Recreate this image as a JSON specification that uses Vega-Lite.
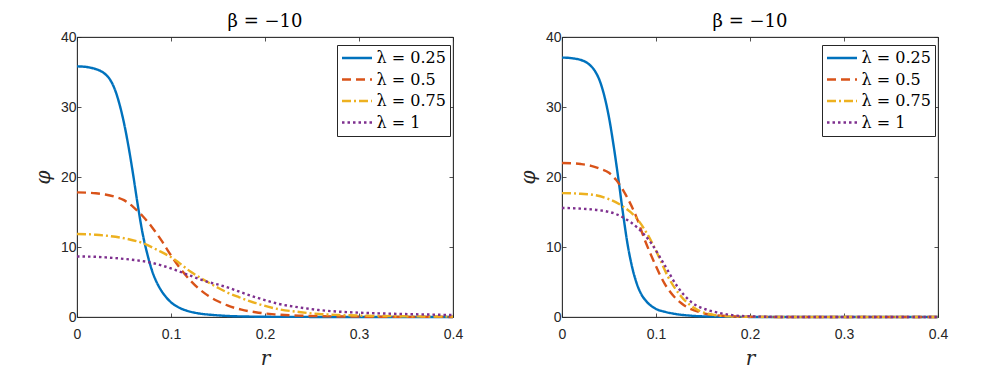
{
  "$schema": "https://vega.github.io/schema/vega-lite/v6.json",
  "padding": {"left": 33, "top": 12, "right": 5, "bottom": 5},
  "spacing": 54,
  "background": "white",
  "datasets": {
    "left": [
      {"lambda":"λ = 0.25","r":0,"phi":35.8},{"lambda":"λ = 0.25","r":0.005,"phi":35.78},{"lambda":"λ = 0.25","r":0.01,"phi":35.72},{"lambda":"λ = 0.25","r":0.015,"phi":35.6},{"lambda":"λ = 0.25","r":0.02,"phi":35.42},{"lambda":"λ = 0.25","r":0.025,"phi":35.15},{"lambda":"λ = 0.25","r":0.03,"phi":34.7},{"lambda":"λ = 0.25","r":0.035,"phi":33.95},{"lambda":"λ = 0.25","r":0.04,"phi":32.6},{"lambda":"λ = 0.25","r":0.045,"phi":30.5},{"lambda":"λ = 0.25","r":0.05,"phi":27.7},{"lambda":"λ = 0.25","r":0.055,"phi":24.2},{"lambda":"λ = 0.25","r":0.06,"phi":20.1},{"lambda":"λ = 0.25","r":0.065,"phi":15.7},{"lambda":"λ = 0.25","r":0.07,"phi":11.8},{"lambda":"λ = 0.25","r":0.075,"phi":8.9},{"lambda":"λ = 0.25","r":0.08,"phi":6.55},{"lambda":"λ = 0.25","r":0.085,"phi":4.9},{"lambda":"λ = 0.25","r":0.09,"phi":3.7},{"lambda":"λ = 0.25","r":0.095,"phi":2.8},{"lambda":"λ = 0.25","r":0.1,"phi":2.1},{"lambda":"λ = 0.25","r":0.11,"phi":1.25},{"lambda":"λ = 0.25","r":0.12,"phi":0.78},{"lambda":"λ = 0.25","r":0.13,"phi":0.5},{"lambda":"λ = 0.25","r":0.145,"phi":0.29},{"lambda":"λ = 0.25","r":0.16,"phi":0.15},{"lambda":"λ = 0.25","r":0.18,"phi":0.07},{"lambda":"λ = 0.25","r":0.2,"phi":0.03},{"lambda":"λ = 0.25","r":0.25,"phi":0.01},{"lambda":"λ = 0.25","r":0.3,"phi":0},{"lambda":"λ = 0.25","r":0.4,"phi":0},
      {"lambda":"λ = 0.5","r":0,"phi":17.8},{"lambda":"λ = 0.5","r":0.01,"phi":17.77},{"lambda":"λ = 0.5","r":0.02,"phi":17.68},{"lambda":"λ = 0.5","r":0.03,"phi":17.5},{"lambda":"λ = 0.5","r":0.04,"phi":17.2},{"lambda":"λ = 0.5","r":0.05,"phi":16.7},{"lambda":"λ = 0.5","r":0.06,"phi":15.7},{"lambda":"λ = 0.5","r":0.07,"phi":14.4},{"lambda":"λ = 0.5","r":0.08,"phi":12.8},{"lambda":"λ = 0.5","r":0.09,"phi":10.9},{"lambda":"λ = 0.5","r":0.1,"phi":8.8},{"lambda":"λ = 0.5","r":0.11,"phi":6.9},{"lambda":"λ = 0.5","r":0.12,"phi":5.3},{"lambda":"λ = 0.5","r":0.13,"phi":4.0},{"lambda":"λ = 0.5","r":0.14,"phi":3.0},{"lambda":"λ = 0.5","r":0.15,"phi":2.25},{"lambda":"λ = 0.5","r":0.16,"phi":1.65},{"lambda":"λ = 0.5","r":0.175,"phi":1.05},{"lambda":"λ = 0.5","r":0.19,"phi":0.68},{"lambda":"λ = 0.5","r":0.21,"phi":0.38},{"lambda":"λ = 0.5","r":0.24,"phi":0.18},{"lambda":"λ = 0.5","r":0.27,"phi":0.09},{"lambda":"λ = 0.5","r":0.3,"phi":0.05},{"lambda":"λ = 0.5","r":0.35,"phi":0.02},{"lambda":"λ = 0.5","r":0.4,"phi":0.01},
      {"lambda":"λ = 0.75","r":0,"phi":11.85},{"lambda":"λ = 0.75","r":0.01,"phi":11.83},{"lambda":"λ = 0.75","r":0.02,"phi":11.75},{"lambda":"λ = 0.75","r":0.032,"phi":11.6},{"lambda":"λ = 0.75","r":0.053,"phi":11.17},{"lambda":"λ = 0.75","r":0.071,"phi":10.5},{"lambda":"λ = 0.75","r":0.085,"phi":9.6},{"lambda":"λ = 0.75","r":0.103,"phi":8.3},{"lambda":"λ = 0.75","r":0.1206,"phi":6.5},{"lambda":"λ = 0.75","r":0.138,"phi":5.06},{"lambda":"λ = 0.75","r":0.151,"phi":4.1},{"lambda":"λ = 0.75","r":0.16,"phi":3.5},{"lambda":"λ = 0.75","r":0.172,"phi":2.85},{"lambda":"λ = 0.75","r":0.193,"phi":1.86},{"lambda":"λ = 0.75","r":0.215,"phi":1.1},{"lambda":"λ = 0.75","r":0.236,"phi":0.72},{"lambda":"λ = 0.75","r":0.257,"phi":0.43},{"lambda":"λ = 0.75","r":0.279,"phi":0.29},{"lambda":"λ = 0.75","r":0.3,"phi":0.2},{"lambda":"λ = 0.75","r":0.35,"phi":0.1},{"lambda":"λ = 0.75","r":0.4,"phi":0.05},
      {"lambda":"λ = 1","r":0,"phi":8.64},{"lambda":"λ = 1","r":0.01,"phi":8.63},{"lambda":"λ = 1","r":0.02,"phi":8.6},{"lambda":"λ = 1","r":0.032,"phi":8.5},{"lambda":"λ = 1","r":0.053,"phi":8.26},{"lambda":"λ = 1","r":0.078,"phi":7.78},{"lambda":"λ = 1","r":0.103,"phi":6.8},{"lambda":"λ = 1","r":0.1206,"phi":5.9},{"lambda":"λ = 1","r":0.138,"phi":5.06},{"lambda":"λ = 1","r":0.151,"phi":4.6},{"lambda":"λ = 1","r":0.163,"phi":4.1},{"lambda":"λ = 1","r":0.172,"phi":3.65},{"lambda":"λ = 1","r":0.193,"phi":2.7},{"lambda":"λ = 1","r":0.215,"phi":1.86},{"lambda":"λ = 1","r":0.236,"phi":1.38},{"lambda":"λ = 1","r":0.257,"phi":1.0},{"lambda":"λ = 1","r":0.279,"phi":0.76},{"lambda":"λ = 1","r":0.3,"phi":0.62},{"lambda":"λ = 1","r":0.321,"phi":0.52},{"lambda":"λ = 1","r":0.364,"phi":0.38},{"lambda":"λ = 1","r":0.4,"phi":0.28}
    ],
    "right": [
      {"lambda":"λ = 0.25","r":0,"phi":37.06},{"lambda":"λ = 0.25","r":0.005,"phi":37.04},{"lambda":"λ = 0.25","r":0.01,"phi":36.98},{"lambda":"λ = 0.25","r":0.015,"phi":36.88},{"lambda":"λ = 0.25","r":0.02,"phi":36.72},{"lambda":"λ = 0.25","r":0.025,"phi":36.45},{"lambda":"λ = 0.25","r":0.03,"phi":35.95},{"lambda":"λ = 0.25","r":0.035,"phi":35.15},{"lambda":"λ = 0.25","r":0.04,"phi":33.8},{"lambda":"λ = 0.25","r":0.045,"phi":31.6},{"lambda":"λ = 0.25","r":0.05,"phi":28.5},{"lambda":"λ = 0.25","r":0.055,"phi":24.4},{"lambda":"λ = 0.25","r":0.06,"phi":19.7},{"lambda":"λ = 0.25","r":0.065,"phi":14.7},{"lambda":"λ = 0.25","r":0.07,"phi":10.2},{"lambda":"λ = 0.25","r":0.075,"phi":6.9},{"lambda":"λ = 0.25","r":0.08,"phi":4.6},{"lambda":"λ = 0.25","r":0.085,"phi":3.1},{"lambda":"λ = 0.25","r":0.09,"phi":2.2},{"lambda":"λ = 0.25","r":0.1,"phi":1.15},{"lambda":"λ = 0.25","r":0.11,"phi":0.72},{"lambda":"λ = 0.25","r":0.12,"phi":0.45},{"lambda":"λ = 0.25","r":0.137,"phi":0.19},{"lambda":"λ = 0.25","r":0.16,"phi":0.06},{"lambda":"λ = 0.25","r":0.2,"phi":0.01},{"lambda":"λ = 0.25","r":0.25,"phi":0},{"lambda":"λ = 0.25","r":0.4,"phi":0},
      {"lambda":"λ = 0.5","r":0,"phi":22.0},{"lambda":"λ = 0.5","r":0.01,"phi":21.97},{"lambda":"λ = 0.5","r":0.02,"phi":21.85},{"lambda":"λ = 0.5","r":0.031,"phi":21.6},{"lambda":"λ = 0.5","r":0.04,"phi":21.2},{"lambda":"λ = 0.5","r":0.05,"phi":20.6},{"lambda":"λ = 0.5","r":0.0575,"phi":19.6},{"lambda":"λ = 0.5","r":0.068,"phi":17.4},{"lambda":"λ = 0.5","r":0.0788,"phi":14.4},{"lambda":"λ = 0.5","r":0.0878,"phi":11.1},{"lambda":"λ = 0.5","r":0.0985,"phi":7.7},{"lambda":"λ = 0.5","r":0.109,"phi":4.8},{"lambda":"λ = 0.5","r":0.118,"phi":3.1},{"lambda":"λ = 0.5","r":0.127,"phi":1.96},{"lambda":"λ = 0.5","r":0.148,"phi":0.62},{"lambda":"λ = 0.5","r":0.17,"phi":0.18},{"lambda":"λ = 0.5","r":0.2,"phi":0.03},{"lambda":"λ = 0.5","r":0.25,"phi":0},{"lambda":"λ = 0.5","r":0.4,"phi":0},
      {"lambda":"λ = 0.75","r":0,"phi":17.7},{"lambda":"λ = 0.75","r":0.01,"phi":17.68},{"lambda":"λ = 0.75","r":0.02,"phi":17.6},{"lambda":"λ = 0.75","r":0.031,"phi":17.5},{"lambda":"λ = 0.75","r":0.0486,"phi":16.9},{"lambda":"λ = 0.75","r":0.0647,"phi":15.8},{"lambda":"λ = 0.75","r":0.0807,"phi":13.9},{"lambda":"λ = 0.75","r":0.0914,"phi":11.7},{"lambda":"λ = 0.75","r":0.102,"phi":8.9},{"lambda":"λ = 0.75","r":0.1126,"phi":5.8},{"lambda":"λ = 0.75","r":0.127,"phi":2.9},{"lambda":"λ = 0.75","r":0.1444,"phi":1.0},{"lambda":"λ = 0.75","r":0.162,"phi":0.29},{"lambda":"λ = 0.75","r":0.18,"phi":0.08},{"lambda":"λ = 0.75","r":0.2,"phi":0.02},{"lambda":"λ = 0.75","r":0.25,"phi":0},{"lambda":"λ = 0.75","r":0.4,"phi":0},
      {"lambda":"λ = 1","r":0,"phi":15.57},{"lambda":"λ = 1","r":0.01,"phi":15.55},{"lambda":"λ = 1","r":0.02,"phi":15.48},{"lambda":"λ = 1","r":0.031,"phi":15.38},{"lambda":"λ = 1","r":0.04,"phi":15.25},{"lambda":"λ = 1","r":0.0486,"phi":15.05},{"lambda":"λ = 1","r":0.0575,"phi":14.7},{"lambda":"λ = 1","r":0.0665,"phi":14.1},{"lambda":"λ = 1","r":0.0807,"phi":12.7},{"lambda":"λ = 1","r":0.0949,"phi":10.55},{"lambda":"λ = 1","r":0.109,"phi":7.45},{"lambda":"λ = 1","r":0.123,"phi":4.3},{"lambda":"λ = 1","r":0.137,"phi":2.2},{"lambda":"λ = 1","r":0.155,"phi":1.0},{"lambda":"λ = 1","r":0.166,"phi":0.62},{"lambda":"λ = 1","r":0.19,"phi":0.15},{"lambda":"λ = 1","r":0.22,"phi":0.03},{"lambda":"λ = 1","r":0.25,"phi":0},{"lambda":"λ = 1","r":0.4,"phi":0}
    ]
  },
  "hconcat": [
    {
      "width": 376, "height": 280,
      "data": {"name": "left"},
      "title": {"text": "β = −10"},
      "layer": [
        {
          "mark": {"type": "line", "strokeWidth": 2.4, "interpolate": "monotone"},
          "encoding": {
            "x": {"field": "r", "type": "quantitative", "scale": {"domain": [0, 0.4], "nice": false}, "axis": {"values": [0, 0.1, 0.2, 0.3, 0.4], "format": "~g", "title": "r"}},
            "y": {"field": "phi", "type": "quantitative", "scale": {"domain": [0, 40], "nice": false}, "axis": {"values": [0, 10, 20, 30, 40], "title": "φ"}},
            "color": {"field": "lambda", "type": "nominal", "scale": {"domain": ["λ = 0.25", "λ = 0.5", "λ = 0.75", "λ = 1"], "range": ["#0072BD", "#D95319", "#EDB120", "#7E2F8E"]}, "legend": {"title": null}},
            "strokeDash": {"field": "lambda", "type": "nominal", "scale": {"domain": ["λ = 0.25", "λ = 0.5", "λ = 0.75", "λ = 1"], "range": [[1, 0], [9, 5], [9, 3, 2, 3], [2.5, 3]]}, "legend": {"title": null}}
          }
        },
        {
          "mark": {"type": "line", "strokeOpacity": 0},
          "encoding": {
            "x": {"field": "r", "type": "quantitative", "scale": {"domain": [0, 0.4], "nice": false}, "axis": {"orient": "top", "values": [0, 0.1, 0.2, 0.3, 0.4], "labels": false, "labelPadding": 0, "title": null}},
            "y": {"field": "phi", "type": "quantitative", "scale": {"domain": [0, 40], "nice": false}, "axis": {"orient": "right", "values": [0, 10, 20, 30, 40], "labels": false, "labelPadding": 0, "title": null}},
            "detail": {"field": "lambda"}
          }
        }
      ],
      "resolve": {"axis": {"x": "independent", "y": "independent"}}
    },
    {
      "width": 376, "height": 280,
      "data": {"name": "right"},
      "title": {"text": "β = −10"},
      "layer": [
        {
          "mark": {"type": "line", "strokeWidth": 2.4, "interpolate": "monotone"},
          "encoding": {
            "x": {"field": "r", "type": "quantitative", "scale": {"domain": [0, 0.4], "nice": false}, "axis": {"values": [0, 0.1, 0.2, 0.3, 0.4], "format": "~g", "title": "r"}},
            "y": {"field": "phi", "type": "quantitative", "scale": {"domain": [0, 40], "nice": false}, "axis": {"values": [0, 10, 20, 30, 40], "title": "φ"}},
            "color": {"field": "lambda", "type": "nominal", "scale": {"domain": ["λ = 0.25", "λ = 0.5", "λ = 0.75", "λ = 1"], "range": ["#0072BD", "#D95319", "#EDB120", "#7E2F8E"]}, "legend": {"title": null}},
            "strokeDash": {"field": "lambda", "type": "nominal", "scale": {"domain": ["λ = 0.25", "λ = 0.5", "λ = 0.75", "λ = 1"], "range": [[1, 0], [9, 5], [9, 3, 2, 3], [2.5, 3]]}, "legend": {"title": null}}
          }
        },
        {
          "mark": {"type": "line", "strokeOpacity": 0},
          "encoding": {
            "x": {"field": "r", "type": "quantitative", "scale": {"domain": [0, 0.4], "nice": false}, "axis": {"orient": "top", "values": [0, 0.1, 0.2, 0.3, 0.4], "labels": false, "labelPadding": 0, "title": null}},
            "y": {"field": "phi", "type": "quantitative", "scale": {"domain": [0, 40], "nice": false}, "axis": {"orient": "right", "values": [0, 10, 20, 30, 40], "labels": false, "labelPadding": 0, "title": null}},
            "detail": {"field": "lambda"}
          }
        }
      ],
      "resolve": {"axis": {"x": "independent", "y": "independent"}}
    }
  ],
  "resolve": {"scale": {"color": "independent", "strokeDash": "independent"}},
  "config": {
    "view": {"stroke": "#262626", "strokeWidth": 0.8},
    "axis": {
      "grid": false, "domainColor": "#262626", "domainWidth": 0.8,
      "tickColor": "#262626", "tickWidth": 0.8, "tickSize": -4, "labelFlush": false,
      "labelFont": "Liberation Sans", "labelFontSize": 14, "labelColor": "#262626",
      "titleFont": "DejaVu Serif", "titleFontStyle": "italic", "titleFontWeight": "normal", "titleFontSize": 20, "titleColor": "#262626"
    },
    "axisX": {"labelPadding": 14, "titlePadding": 7},
    "axisY": {"labelPadding": 5, "titlePadding": 7},
    "title": {"font": "DejaVu Serif", "fontSize": 18, "fontWeight": "normal", "color": "#000000", "offset": -1},
    "legend": {
      "orient": "none", "legendX": 260, "legendY": 8, "fillColor": "white", "strokeColor": "#262626", "padding": 3.5,
      "symbolType": "stroke", "symbolSize": 900, "symbolStrokeWidth": 2.5, "symbolOpacity": 1, "clipHeight": 19,
      "labelFont": "DejaVu Serif", "labelFontSize": 16, "labelColor": "#000000", "labelOffset": 3, "rowPadding": 2.5, "cornerRadius": 0
    }
  }
}
